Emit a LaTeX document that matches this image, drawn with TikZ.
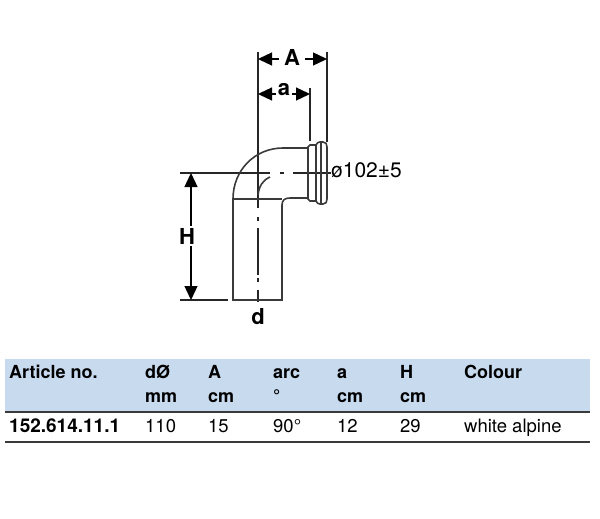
\documentclass[tikz,border=0pt]{standalone}
\usepackage{fontspec}
\setmainfont{TeX Gyre Heros}
\usetikzlibrary{arrows.meta, positioning}
\definecolor{bandblue}{HTML}{C7DAEE}
\definecolor{inkgray}{HTML}{3A3A3A}
\tikzset{
    textnode/.style = {draw=none, fill=none, rectangle, inner sep=0em, anchor=base west, font=\fontsize{18.5}{22}\selectfont},
    headnode/.style = {textnode, font=\fontsize{18}{22}\selectfont\bfseries},
    dimnode/.style = {draw=none, inner sep=0.2em, text=black, font=\fontsize{22}{26}\selectfont\bfseries},
    pipeline/.style = {draw=inkgray, line width=1.6pt},
    thinline/.style = {draw=black!85, line width=1.3pt},
    dimarrow/.style = {draw=black, line width=1.3pt, -{Triangle[length=14pt, width=13pt]}},
    ruleline/.style = {draw=inkgray, line width=1.3pt}
}

\begin{document}
\begin{tikzpicture}[x=1pt, y=-1pt]
\useasboundingbox (0,0) rectangle (600,519);

% table band
\fill[bandblue] (5,359) rectangle (590,412);
\coordinate (ruleL) at (5,412); \coordinate (ruleR) at (590,412);
\coordinate (endL) at (5,442); \coordinate (endR) at (590,442);
\draw[ruleline] (ruleL) -- (ruleR);
\draw[ruleline] (endL) -- (endR);

% extension lines
\coordinate (Atop) at (258,52);
\coordinate (Abot) at (258,303);
\coordinate (Aright) at (327,52);
\coordinate (Arightb) at (327,142);
\coordinate (atop) at (310,88);
\coordinate (abot) at (310,141);
\coordinate (Htop) at (180,173);
\coordinate (Hend) at (331,173);
\coordinate (Hbot) at (180,300);
\coordinate (Hbotb) at (228,300);
\draw[thinline, dash pattern=on 156pt off 9pt on 4pt off 7pt on 47pt off 3pt on 4pt off 8pt on 12pt] (Atop) -- (Abot);
\draw[thinline, dash pattern=on 90pt off 10pt on 4pt off 9pt on 38pt] (Htop) -- (Hend);
\draw[thinline] (Aright) -- (Arightb);
\draw[thinline] (atop) -- (abot);
\draw[thinline] (Hbot) -- (Hbotb);

% elbow
\draw[pipeline] (308,148) -- (283,148) .. controls (255,148) and (233,170) .. (233,199)
  -- (233,300) -- (282,300) -- (282,205) .. controls (282,200) and (285,198) .. (290,198) -- (308,198);
\draw[pipeline] (233,199) -- (282,199);
\draw[pipeline] (258,195) .. controls (259,186) and (263,180) .. (270,177);
\draw[pipeline] (308,147) -- (310,145) -- (316,145) .. controls (317,143) and (318,142) .. (320,142) -- (323,142)
  .. controls (326,142) and (327,144) .. (327,147) -- (327,199) .. controls (327,202) and (326,204) .. (323,204)
  -- (320,204) .. controls (318,204) and (317,203) .. (316,201) -- (310,201) -- (308,199) -- cycle;
\draw[pipeline] (316,145) -- (316,201);
\draw[pipeline] (321,142) -- (321,204);

% dimensions
\node[dimnode, name=labA] at (292,57) {A};
\node[dimnode, name=laba] at (284,90) {a};
\node[dimnode, name=labH] at (187,236) {H};
\node[dimnode, name=labd] at (258,317) {d};
\node[textnode, name=labphi, font=\fontsize{21}{25}\selectfont, anchor=west] at (331,170) {ø102±5};
\coordinate (AdimL) at (258,59); \coordinate (AdimR) at (327,59);
\coordinate (adimL) at (258,94); \coordinate (adimR) at (310,94);
\coordinate (HdimT) at (191,173); \coordinate (HdimB) at (191,300);
\draw[dimarrow] (labA.west |- AdimL) ++(-3,0) coordinate (AstartL) (AstartL) -- (AdimL);
\draw[dimarrow] (labA.east |- AdimR) ++(3,0) coordinate (AstartR) (AstartR) -- (AdimR);
\draw[dimarrow] (laba.west |- adimL) coordinate (astartL) (astartL) -- (adimL);
\draw[dimarrow] (laba.east |- adimR) coordinate (astartR) (astartR) -- (adimR);
\draw[dimarrow] (HdimT |- labH.north) coordinate (HstartT) (HstartT) -- (HdimT);
\draw[dimarrow] (HdimB |- labH.south) coordinate (HstartB) (HstartB) -- (HdimB);

% table text
\node[headnode, name=artno] at (9,378) {Article no.};
\node[headnode, name=dia] at (145,378) {dØ};
\node[headnode, name=colA] at (208,378) {A};
\node[headnode, name=arc] at (273,378) {arc};
\node[headnode, name=cola] at (337,378) {a};
\node[headnode, name=colH] at (400,378) {H};
\node[headnode, name=colour] at (464,378) {Colour};

\node[headnode, name=unitd] at (145,402) {mm};
\node[headnode, name=unitA] at (208,402) {cm};
\node[headnode, name=unitarc] at (273,402) {°};
\node[headnode, name=unita] at (337,402) {cm};
\node[headnode, name=unitH] at (400,402) {cm};

\node[headnode, name=valno, font=\fontsize{19}{22}\selectfont\bfseries] at (9,432) {152.614.11.1};
\node[textnode, name=vald] at (145,432) {110};
\node[textnode, name=valA] at (208,432) {15};
\node[textnode, name=valarc] at (273,432) {90°};
\node[textnode, name=vala] at (337,432) {12};
\node[textnode, name=valH] at (400,432) {29};
\node[textnode, name=valcol] at (464,432) {white alpine};
\end{tikzpicture}
\end{document}
